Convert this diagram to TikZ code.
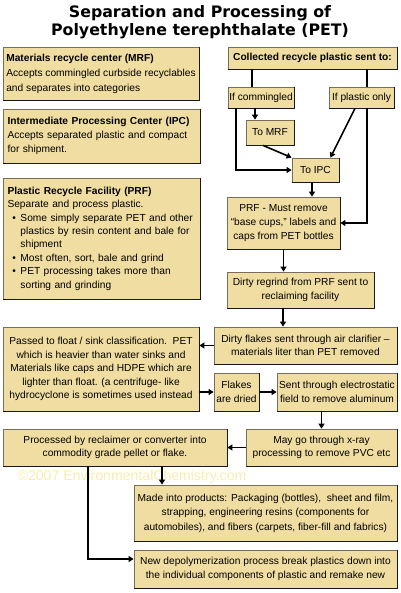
\documentclass[tikz,border=0pt]{standalone}
\usepackage{fontspec}
\setmainfont{Liberation Sans}
\newfontfamily\titlefont{DejaVu Sans}
\usetikzlibrary{arrows.meta,calc}
\definecolor{boxfill}{RGB}{240,221,161}
\definecolor{boxedge}{RGB}{120,110,90}
\definecolor{wmark}{RGB}{252,236,176}
\hyphenpenalty=10000
\begin{document}
\begin{tikzpicture}[x=1pt,y=-1pt,
  box/.style={draw=boxedge, line width=0.8pt, fill=boxfill, inner sep=0pt,
    font=\fontsize{10.2}{13.6}\selectfont, align=center},
  lbox/.style={box, align=left},
  shade/.style={draw=black!90, line width=1.5pt},
  conn/.style={line width=1.6pt, draw=black},
  arr/.style={conn, -{Triangle[length=5pt,width=6pt]}},
  hd/.style={font=\bfseries}
]
\useasboundingbox[fill=white] (0,0) rectangle (400,593);

% title
\node[font=\titlefont\bfseries\fontsize{15.8}{18}\selectfont, align=center] (title) at (200,22)
  {Separation and Processing of\\Polyethylene terephthalate (PET)};

% left column
\node[lbox, minimum width=196, minimum height=53,
      font=\fontsize{10.2}{15}\selectfont] (mrf) at (101,73.5)
  {{\bfseries Materials recycle center (MRF)}\\
   Accepts commingled curbside recyclables\\
   and separates into categories};
\node[lbox, minimum width=197, minimum height=54, text width=188,
      font=\fontsize{10.2}{14}\selectfont] (ipc) at (101.5,136)
  {{\bfseries Intermediate Processing Center (IPC)}\\
   Accepts separated plastic and compact\\
   for shipment.};
\node[lbox, minimum width=197, minimum height=121, text width=188,
      font=\fontsize{10.2}{13.4}\selectfont] (prf) at (101.5,238.5)
  {{\bfseries Plastic Recycle Facility (PRF)}\\
   Separate and process plastic.\\
   \hspace*{5pt}\makebox[8pt][l]{\textbullet}Some simply separate PET and other\\
   \hspace*{13pt}plastics by resin content and bale for\\
   \hspace*{13pt}shipment\\
   \hspace*{5pt}\makebox[8pt][l]{\textbullet}Most often, sort, bale and grind\\
   \hspace*{5pt}\makebox[8pt][l]{\textbullet}PET processing takes more than\\
   \hspace*{13pt}sorting and grinding};

% right column
\node[box, minimum width=169, minimum height=22] (coll) at (312.5,58)
  {\bfseries Collected recycle plastic sent to:};
\node[box, minimum width=66, minimum height=21] (ifcom) at (261,97.5) {If commingled};
\node[box, minimum width=65, minimum height=21] (ifpl) at (361.5,97.5) {If plastic only};
\node[box, minimum width=48, minimum height=25] (tomrf) at (270,132.5) {To MRF};
\node[box, minimum width=47, minimum height=24] (toipc) at (315.5,170) {To IPC};
\node[box, minimum width=113, minimum height=52] (prfrem) at (283.5,223)
  {PRF - Must remove\\“base cups,” labels and\\caps from PET bottles};
\node[box, minimum width=147, minimum height=36] (dirty) at (300.5,290)
  {Dirty regrind from PRF sent to\\reclaiming facility};
\node[box, minimum width=183, minimum height=37] (flakes) at (305.5,345.5)
  {Dirty flakes sent through air clarifier –\\materials liter than PET removed};
\node[box, minimum width=196, minimum height=84] (float) at (101,369)
  {Passed to float / sink classification.\ \ PET\\
   which is heavier than water sinks and\\
   Materials like caps and HDPE which are\\
   lighter than float. (a centrifuge- like\\
   hydrocyclone is sometimes used instead};
\node[box, minimum width=45, minimum height=38] (dried) at (236.5,392) {Flakes\\are dried};
\node[box, minimum width=120, minimum height=38] (electro) at (337,392)
  {Sent through electrostatic\\field to remove aluminum};
\node[box, minimum width=224, minimum height=37] (proc) at (115,447.5)
  {Processed by reclaimer or converter into\\commodity grade pellet or flake.};
\node[box, minimum width=151, minimum height=37] (xray) at (321.5,447.5)
  {May go through x-ray\\processing to remove PVC etc};
\node[box, minimum width=263, minimum height=56, font=\fontsize{10.2}{14.5}\selectfont] (made) at (265.5,513)
  {Made into products: Packaging (bottles),\ \ sheet and film,\\
   strapping, engineering resins (components for\\
   automobiles), and fibers (carpets, fiber-fill and fabrics)};
\node[box, minimum width=263, minimum height=38] (depoly) at (265.5,569)
  {New depolymerization process break plastics down into\\
   the individual components of plastic and remake new};

% darker right/bottom edges
\foreach \n in {mrf,ipc,prf,coll,ifcom,ifpl,tomrf,toipc,prfrem,dirty,flakes,float,dried,electro,proc,xray,made,depoly}
  \draw[shade] (\n.north east) -- (\n.south east) -- (\n.south west);

% watermark
\node[text=wmark, font=\fontsize{14.1}{16}\selectfont, inner sep=0pt] (wm) at (132,477)
  {©2007 EnvironmentalChemistry.com};

% connectors
\draw[conn] ([xshift=-9pt]ifcom.north |- coll.south) -- ([xshift=-9pt]ifcom.north);
\draw[conn] ([xshift=5.5pt]ifpl.north |- coll.south) -- ([xshift=5.5pt]ifpl.north);
\draw[arr] ([xshift=5.5pt]ifpl.south) |- (prfrem.east);
\draw[arr] ([xshift=-6pt]ifcom.south) -- ([xshift=-6pt]ifcom.south |- tomrf.north);
\draw[arr] ([xshift=-25pt]ifcom.south) |- (toipc.west);
\draw[arr] ([xshift=-7pt]tomrf.south) -- (toipc.north west);
\draw[arr] ([xshift=-6.5pt]ifpl.south) -- ([xshift=-9pt]toipc.north east);
\draw[arr] ([xshift=-3.5pt]toipc.south) -- ([xshift=-3.5pt]toipc.south |- prfrem.north);
\draw[arr] (prfrem.south) -- (prfrem.south |- dirty.north);
\draw[arr] ([xshift=-17.5pt]dirty.south) -- ([xshift=-17.5pt]dirty.south |- flakes.north);
\draw[arr] (flakes.west) -- (flakes.west -| float.east);
\draw[arr] (dried.west -| float.east) -- (dried.west);
\draw[arr] (dried.east) -- (electro.west);
\draw[arr] (electro.south -| xray.north) -- (xray.north);
\draw[arr] (xray.west) -- (proc.east);
\draw[arr] ([xshift=47pt]proc.south) -- ([xshift=47pt]proc.south |- made.north);
\draw[arr] ([xshift=-27pt]proc.south) |- ([yshift=10pt]depoly.west);
\end{tikzpicture}
\end{document}
